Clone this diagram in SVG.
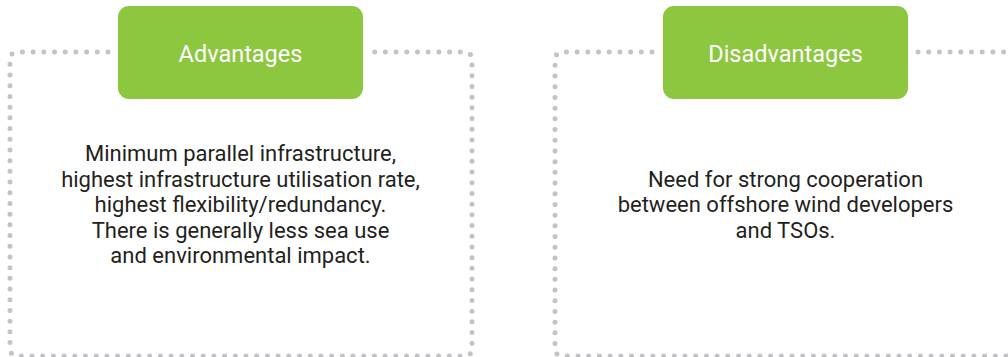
<svg xmlns="http://www.w3.org/2000/svg" width="1008" height="357" viewBox="0 0 1008 357">
<style>
.dots{fill:none;stroke:#c3c3c7;stroke-width:5;stroke-linecap:round;stroke-dasharray:0 10.7}
.box{fill:#8dc63f}
.title{font-family:Roboto,"Liberation Sans",sans-serif;font-size:23.5px;fill:#ffffff;text-anchor:middle}
.body{font-family:Roboto,"Liberation Sans",sans-serif;font-size:22px;fill:#231f20;text-anchor:middle}
</style>
<rect width="1008" height="357" fill="#ffffff"/>
<g id="connectors">
<path class="dots" d="M108,52 H18 Q10,52 10,60 V348 Q10,356 18,356 H464 Q472,356 472,348 V60 Q472,52 464,52 H372"/>
<path class="dots" d="M652,52 H563 Q555,52 555,60 V348 Q555,356 563,356 H1012"/>
<path class="dots" d="M918,52 H1012"/>
</g>
<g id="advantages">
<rect class="box" x="118" y="6" width="245" height="93" rx="11"/>
<text class="title" x="240.5" y="61.5">Advantages</text>
</g>
<g id="advantages-text">
<text class="body" x="240.5" y="161">Minimum parallel infrastructure,</text>
<text class="body" x="240.5" y="186.5">highest infrastructure utilisation rate,</text>
<text class="body" x="240.5" y="212">highest flexibility/redundancy.</text>
<text class="body" x="240.5" y="237.5">There is generally less sea use</text>
<text class="body" x="240.5" y="263">and environmental impact.</text>
</g>
<g id="disadvantages">
<rect class="box" x="663" y="6" width="245" height="93" rx="11"/>
<text class="title" x="785.5" y="61.5">Disadvantages</text>
</g>
<g id="disadvantages-text">
<text class="body" x="785.5" y="186.5">Need for strong cooperation</text>
<text class="body" x="785.5" y="212">between offshore wind developers</text>
<text class="body" x="785.5" y="237.5">and TSOs.</text>
</g>
</svg>
